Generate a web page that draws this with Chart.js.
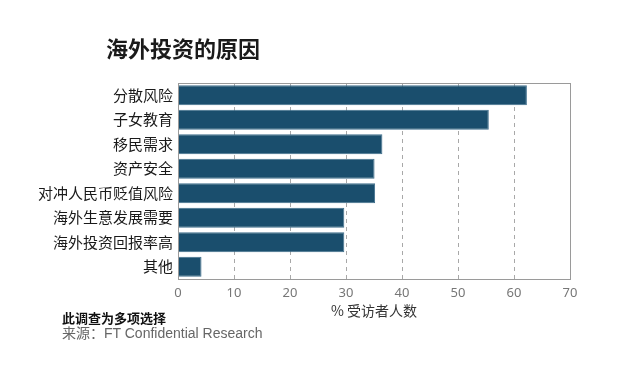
<!DOCTYPE html>
<html><head><meta charset="utf-8">
<script src="https://cdn.jsdelivr.net/npm/chart.js@4"></script>
<style>
html,body{margin:0;padding:0;background:#fff;width:640px;height:376px;overflow:hidden;font-family:"Noto Sans CJK SC","Noto Sans",sans-serif;}
#wrap{position:absolute;left:0;top:0;width:640px;height:376px;}
.t{position:absolute;white-space:nowrap;line-height:1.2;}
</style></head><body>
<div id="wrap"><canvas id="c" width="640" height="376"></canvas></div>
<div class="t" id="title" style="left:106px;top:34px;font-size:22px;font-weight:bold;color:#1a1a1a;">海外投资的原因</div>
<div class="t" id="xt" style="left:178px;width:392px;text-align:center;top:302px;font-size:14px;color:#333;"></div>
<div class="t" style="left:62px;top:310px;font-size:13px;font-weight:bold;color:#111;">此调查为多项选择</div>
<div class="t" style="left:62px;top:325px;font-size:14px;color:#666;font-family:'Liberation Sans','Noto Sans CJK SC',sans-serif;">来源：FT Confidential Research</div>
<script>
const categories = ["分散风险","子女教育","移民需求","资产安全","对冲人民币贬值风险","海外生意发展需要","海外投资回报率高","其他"];
const values = [62.3, 55.5, 36.5, 35.1, 35.2, 29.7, 29.7, 4.2];
const xTicks = [0,10,20,30,40,50,60,70];
const xTitle = "% 受访者人数";
document.getElementById('xt').textContent = xTitle;

const borderPlugin = {
  id:'plotBorder',
  afterDraw(chart){
    const a = chart.chartArea, ctx = chart.ctx;
    ctx.save();
    ctx.strokeStyle = '#9a9a9a';
    ctx.lineWidth = 1;
    ctx.strokeRect(Math.round(a.left)+0.5, Math.round(a.top)+0.5, Math.round(a.right-a.left), Math.round(a.bottom-a.top));
    ctx.restore();
  }
};

new Chart(document.getElementById('c'), {
  type:'bar',
  data:{labels:categories, datasets:[{data:values, backgroundColor:'#1a4e6d', borderColor:'#3f6f8c', borderWidth:1, barPercentage:0.82, categoryPercentage:1}]},
  options:{
    indexAxis:'y', responsive:false, animation:false,
    layout:{padding:{top:83,right:70,left:0,bottom:0}},
    plugins:{legend:{display:false}, tooltip:{enabled:false}},
    scales:{
      x:{min:0,max:70,
        afterBuildTicks(s){ s.ticks = xTicks.map(v=>({value:v})); },
        afterFit(s){ s.height = 97; },
        grid:{color:(c)=> (c.tick && (c.tick.value===0||c.tick.value===70)) ? 'rgba(0,0,0,0)' : '#a8a8a8', drawTicks:false, lineWidth:1},
        border:{display:false, dash:[4,4]},
        ticks:{color:'#777', font:{size:13, family:'"Noto Sans","Liberation Sans",sans-serif'}, padding:6}
      },
      y:{
        afterFit(s){ s.width = 178; },
        grid:{display:false, drawTicks:false},
        border:{display:false},
        ticks:{color:'#1a1a1a', font:{size:15, family:'"Noto Sans CJK SC",sans-serif'}, padding:5}
      }
    }
  },
  plugins:[borderPlugin]
});
</script>
</body></html>
